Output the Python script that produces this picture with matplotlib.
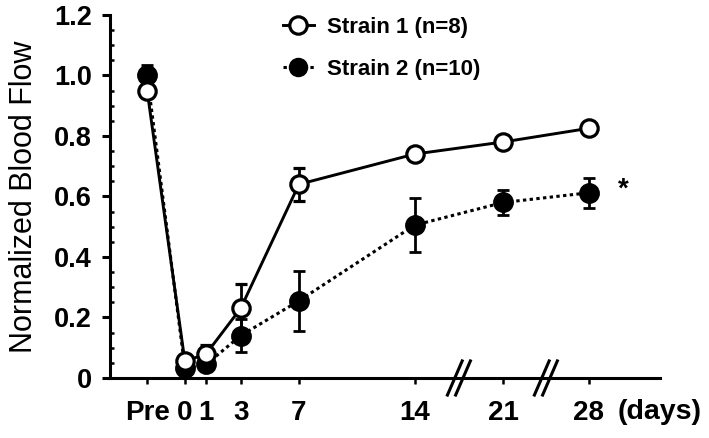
import matplotlib
matplotlib.use("Agg")
import matplotlib.pyplot as plt
from matplotlib.lines import Line2D
from matplotlib.ticker import MultipleLocator, FixedLocator

plt.rcParams["font.family"] = ["Liberation Sans", "DejaVu Sans"]

# time points (labels) and their position along the broken x axis
day_labels = ["Pre", "0", "1", "3", "7", "14", "21", "28"]
day_pos = [-2.3, 0, 1.3, 3.4, 6.95, 14, 19.4, 24.6]

s1_mean = [0.95, 0.055, 0.08, 0.23, 0.64, 0.74, 0.78, 0.825]
s1_err = [0.02, 0.02, 0.03, 0.08, 0.055, 0.02, 0.015, 0.02]
s2_mean = [1.00, 0.033, 0.045, 0.14, 0.255, 0.505, 0.58, 0.612]
s2_err = [0.035, 0.02, 0.02, 0.055, 0.10, 0.09, 0.04, 0.05]

break_pos = [16.7, 22.0]

fig = plt.figure(figsize=(7.09, 4.38), dpi=100)
ax = fig.add_axes([0.155, 0.137, 0.776, 0.829])

dots = (0, (1.1, 1.1))
ax.errorbar(day_pos, s2_mean, yerr=s2_err, fmt="o", color="black", ls=dots,
            lw=2.2, ms=13, mfc="black", mec="black", mew=2, elinewidth=2,
            capsize=4, capthick=2, zorder=3)
ax.errorbar(day_pos, s1_mean, yerr=s1_err, fmt="o", color="black", ls="-",
            lw=2.1, ms=12.5, mfc="white", mec="black", mew=2.3, elinewidth=2,
            capsize=4, capthick=2, zorder=4)

ax.set_xlim(-4.57, 28.96)
ax.set_ylim(0, 1.2)
ax.spines["top"].set_visible(False)
ax.spines["right"].set_visible(False)
ax.spines["left"].set_linewidth(2.2)
ax.spines["bottom"].set_linewidth(2.2)

ax.yaxis.set_major_locator(MultipleLocator(0.2))
ax.yaxis.set_minor_locator(MultipleLocator(0.05))
ax.set_yticklabels(["0" if abs(v) < 1e-9 else f"{v:.1f}" for v in ax.get_yticks()])
ax.tick_params(axis="y", which="major", direction="out", length=6, width=2.2,
               labelsize=19.5, pad=7)
ax.tick_params(axis="y", which="minor", direction="in", length=3, width=1.8)

ax.xaxis.set_major_locator(FixedLocator(day_pos))
ax.set_xticklabels(day_labels)
ax.tick_params(axis="x", which="major", direction="out", length=4, width=1.8,
               labelsize=20, pad=12)
for lab in ax.get_xticklabels() + ax.get_yticklabels():
    lab.set_fontweight("bold")

ax.set_ylabel("Normalized Blood Flow", fontsize=22)
ax.yaxis.set_label_coords(-0.128, 0.5)

# axis break marks
xt = ax.get_xaxis_transform()
for b in break_pos:
    for off in (-0.25, 0.25):
        ax.plot([b + off - 0.45, b + off + 0.45], [-0.047, 0.047], color="black",
                lw=2.2, transform=xt, clip_on=False, zorder=5)

ax.text(28.96, -0.094, "(days)", transform=xt, fontsize=20.5, fontweight="bold",
        ha="center", va="center")
ax.text(26.7, s2_mean[-1] + 0.01, "*", fontsize=20, fontweight="bold",
        ha="center", va="center")

handles = [
    Line2D([], [], color="black", ls="-", lw=2.1, marker="o", ms=12.5, mfc="white",
           mec="black", mew=2.3),
    Line2D([], [], color="black", ls=dots, lw=2.2, marker="o", ms=13,
           mfc="black", mec="black"),
]
fig.legend(handles, ["Strain 1 (n=8)", "Strain 2 (n=10)"], loc="upper left",
           bbox_to_anchor=(0.399, 0.962), frameon=False,
           prop={"size": 16, "weight": "bold"}, handlelength=1.4,
           handletextpad=0.6, labelspacing=0.95, borderpad=0, borderaxespad=0)

fig.savefig("out.png", dpi=100)
